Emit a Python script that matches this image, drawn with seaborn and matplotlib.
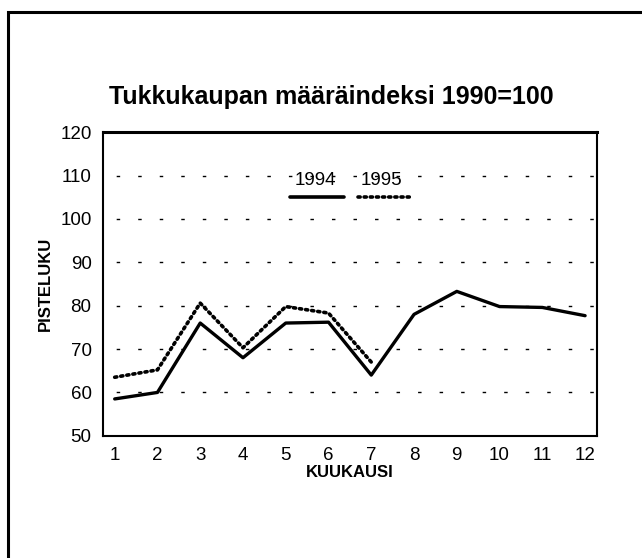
import numpy as np
import pandas as pd
import seaborn as sns
import matplotlib.pyplot as plt
from matplotlib.lines import Line2D
from matplotlib.patches import Rectangle

# Data
months = [1, 2, 3, 4, 5, 6, 7, 8, 9, 10, 11, 12]
values_1994 = [58.5, 60.0, 76.0, 68.0, 76.0, 76.2, 64.0, 78.0, 83.3, 79.8, 79.6, 77.7]
months_1995 = [1, 2, 3, 4, 5, 6, 7]
values_1995 = [63.5, 65.2, 80.6, 70.3, 79.8, 78.3, 67.0]
yticks = [50, 60, 70, 80, 90, 100, 110, 120]

df94 = pd.DataFrame({'kk': months, 'arvo': values_1994})
df95 = pd.DataFrame({'kk': months_1995, 'arvo': values_1995})

sns.set_style('white')
plt.rcParams['font.family'] = ['Liberation Sans', 'DejaVu Sans']
plt.rcParams['text.color'] = 'black'
plt.rcParams['axes.labelcolor'] = 'black'
plt.rcParams['xtick.color'] = 'black'
plt.rcParams['ytick.color'] = 'black'

fig = plt.figure(figsize=(6.42, 5.58), dpi=100)
ax = fig.add_axes([0.160, 0.219, 0.770, 0.544])

# outer frame of the page
fig.patches.append(Rectangle((8 / 642, -0.1), 1.2, 1 - 12 / 558 + 0.1,
                             transform=fig.transFigure, fill=False,
                             edgecolor='black', linewidth=2.2))

# dotted grid lines
for y in yticks[1:-1]:
    ax.axhline(y, color='black', linewidth=1.0, linestyle=(6, (2.5, 13)), zorder=1)

sns.lineplot(data=df94, x='kk', y='arvo', ax=ax, color='black', linewidth=2.4, zorder=3)
sns.lineplot(data=df95, x='kk', y='arvo', ax=ax, color='black', linewidth=2.6,
             linestyle=(0, (0.6, 1.1)), dash_capstyle='round', zorder=3)

ax.set_xlim(0.72, 12.28)
ax.set_ylim(50, 120)
ax.set_xticks(months)
ax.set_yticks(yticks)
ax.set_yticks(np.arange(55, 120, 10), minor=True)
ax.tick_params(axis='both', which='major', direction='in', length=5, width=1,
               labelsize=13.5)
ax.tick_params(axis='x', pad=8)
ax.tick_params(axis='y', pad=8)
ax.tick_params(axis='y', which='minor', direction='in', length=3, width=1)
ax.tick_params(axis='x', top=False)
for s in ax.spines.values():
    s.set_color('black')
    s.set_linewidth(1.5)
ax.spines['top'].set_linewidth(2.2)

ax.set_xlabel('KUUKAUSI', fontsize=12, fontweight='bold', labelpad=1)
ax.set_ylabel('PISTELUKU', fontsize=12, fontweight='bold', labelpad=5)

fig.text(331 / 642, 1 - 97 / 558, 'Tukkukaupan määräindeksi 1990=100',
         ha='center', va='center', fontsize=18, fontweight='bold')

# legend: label above sample line
ax.text(0.431, 0.842, '1994', transform=ax.transAxes, ha='center', va='center', fontsize=13.5)
ax.text(0.563, 0.842, '1995', transform=ax.transAxes, ha='center', va='center', fontsize=13.5)
ax.add_line(Line2D([0.379, 0.488], [0.786, 0.786], transform=ax.transAxes,
                   color='black', linewidth=2.6))
ax.add_line(Line2D([0.516, 0.623], [0.786, 0.786], transform=ax.transAxes,
                   color='black', linewidth=2.6, linestyle=(0, (0.6, 1.1)),
                   dash_capstyle='round'))

fig.savefig('out.png', dpi=100)
